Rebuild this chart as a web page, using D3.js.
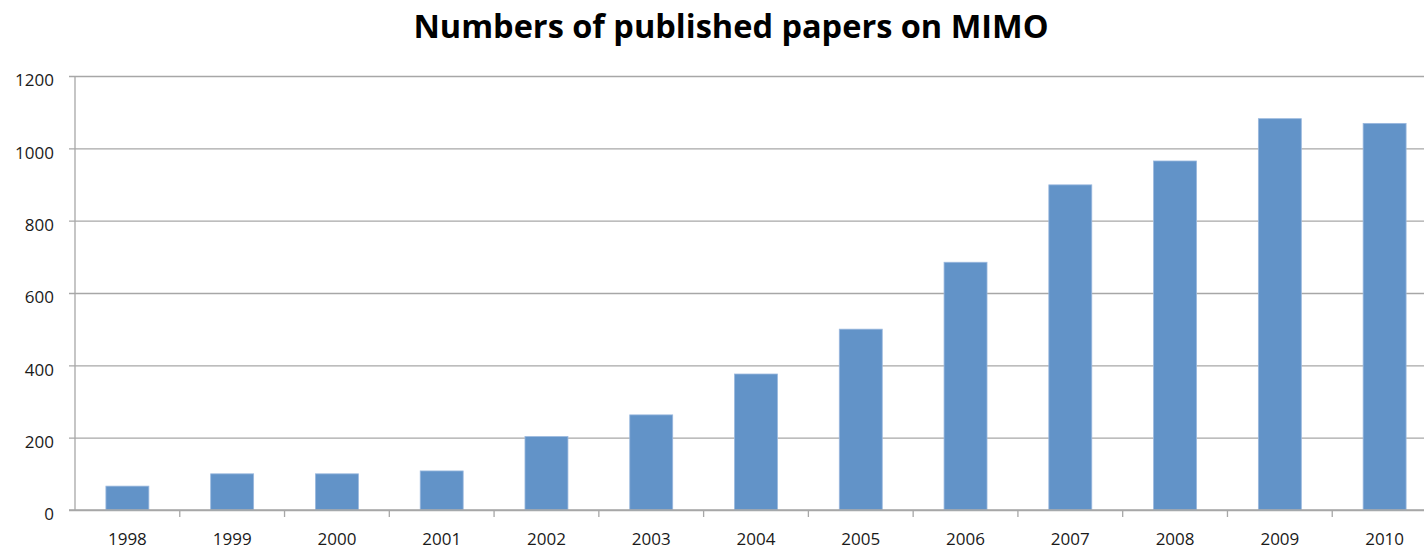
<!DOCTYPE html>
<html>
<head>
<meta charset="utf-8">
<script src="https://cdn.jsdelivr.net/npm/d3@7/dist/d3.min.js"></script>
<style>
  html, body { margin: 0; padding: 0; background: #fff; }
  svg { display: block; }
</style>
</head>
<body>
<svg id="chart" width="1424" height="550"></svg>
<script>
// Annual publication counts on MIMO
const years  = ["1998", "1999", "2000", "2001", "2002", "2003", "2004",
                "2005", "2006", "2007", "2008", "2009", "2010"];
const papers = [66, 100, 100, 108, 203, 263, 376, 500, 685, 899, 965, 1082, 1069];
const yTicks = [0, 200, 400, 600, 800, 1000, 1200];
const title  = "Numbers of published papers on MIMO";

const svg = d3.select("#chart");
const W = 1424;

const plot = { left: 75, right: 1437, top: 76, bottom: 510 };

const x = d3.scaleBand()
  .domain(years)
  .range([plot.left, plot.right])
  .paddingInner(0.59)
  .paddingOuter(0.295);

const y = d3.scaleLinear()
  .domain([0, 1200])
  .range([plot.bottom, plot.top]);

const gridColor = "#a7a7a7";
const font = "'Open Sans', 'Liberation Sans', sans-serif";

// horizontal gridlines with left-side ticks
const yAxis = d3.axisLeft(y)
  .tickValues(yTicks)
  .tickSize(-(W - plot.left + 10))
  .tickPadding(21)
  .tickFormat(d3.format("d"));

const gy = svg.append("g")
  .attr("transform", `translate(${plot.left},0)`)
  .call(yAxis);
gy.select(".domain").remove();
gy.selectAll(".tick line")
  .attr("x1", -6)
  .attr("stroke", gridColor)
  .attr("stroke-width", 1.3);
gy.selectAll(".tick text")
  .attr("dy", "0.58em")
  .attr("font-family", font)
  .attr("font-size", 17)
  .attr("fill", "#1a1a1a");

// vertical axis line
svg.append("line")
  .attr("x1", plot.left).attr("x2", plot.left)
  .attr("y1", y(1200)).attr("y2", y(0))
  .attr("stroke", gridColor)
  .attr("stroke-width", 1.3);

// bars
svg.append("g")
  .selectAll("rect")
  .data(years)
  .join("rect")
  .attr("x", d => x(d))
  .attr("width", x.bandwidth())
  .attr("y", (d, i) => y(papers[i]))
  .attr("height", (d, i) => y(0) - y(papers[i]))
  .attr("fill", "#6293c8")
  .attr("stroke", "#9ab8de")
  .attr("stroke-width", 0.8);

// category axis: labels centred, ticks at category boundaries
const xAxis = d3.axisBottom(x).tickSize(0).tickPadding(23);
const gx = svg.append("g")
  .attr("transform", `translate(0,${plot.bottom})`)
  .call(xAxis);
gx.select(".domain").remove();
gx.selectAll(".tick text")
  .attr("font-family", font)
  .attr("font-size", 17)
  .attr("fill", "#1a1a1a");

svg.append("line")
  .attr("x1", plot.left - 6).attr("x2", W)
  .attr("y1", y(0)).attr("y2", y(0))
  .attr("stroke", gridColor)
  .attr("stroke-width", 1.3);

const step = x.step();
svg.append("g")
  .selectAll("line")
  .data(years.slice(1))
  .join("line")
  .attr("x1", d => x(d) + x.bandwidth() / 2 - step / 2)
  .attr("x2", d => x(d) + x.bandwidth() / 2 - step / 2)
  .attr("y1", y(0))
  .attr("y2", y(0) + 7)
  .attr("stroke", gridColor)
  .attr("stroke-width", 1.3);

// title
svg.append("text")
  .attr("x", 731)
  .attr("y", 38)
  .attr("text-anchor", "middle")
  .attr("font-family", font)
  .attr("font-weight", "bold")
  .attr("font-size", 32.5)
  .attr("fill", "#000")
  .text(title);
</script>
</body>
</html>
